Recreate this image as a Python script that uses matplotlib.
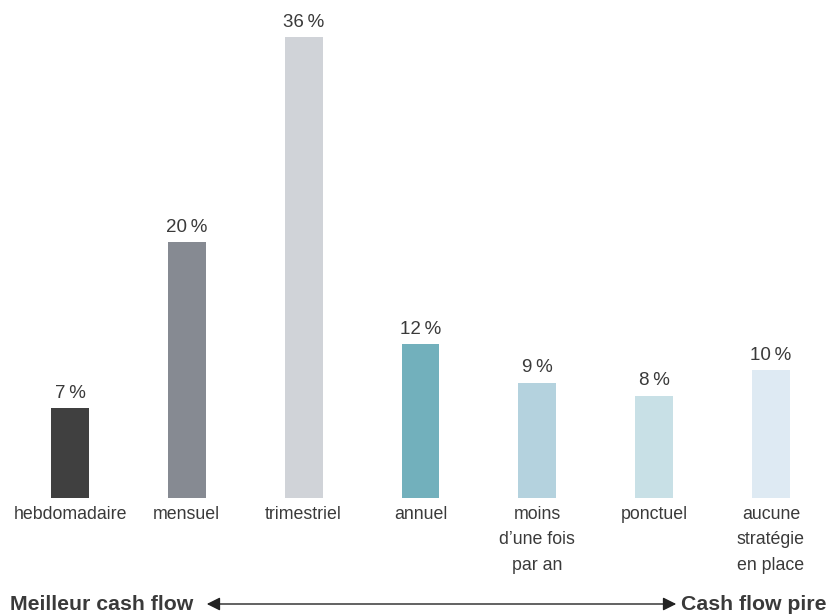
import matplotlib.pyplot as plt
from matplotlib.patches import FancyArrowPatch

categories = ["hebdomadaire", "mensuel", "trimestriel", "annuel",
              "moins\nd\u2019une fois\npar an", "ponctuel",
              "aucune\nstrat\u00e9gie\nen place"]
values = [7, 20, 36, 12, 9, 8, 10]
colors = ["#404040", "#868a92", "#d0d3d8", "#72b0bc",
          "#b4d2de", "#c8e0e6", "#deeaf3"]
left_label = "Meilleur cash flow"
right_label = "Cash flow pire"

plt.rcParams["font.family"] = ["Liberation Sans", "DejaVu Sans"]
txt = "#3a3a3a"

fig = plt.figure(figsize=(8.29, 6.16), dpi=100)
ax = fig.add_axes([11.6 / 829, 118 / 616, 817.8 / 829, 486.4 / 616])

x = range(len(values))
ax.bar(x, values, width=0.325, color=colors)
for i, v in enumerate(values):
    ax.text(i, v + 0.5, f"{v}\u2009%", ha="center", va="bottom",
            fontsize=13.5, color=txt)
    ax.text(i, -0.6, categories[i], ha="center", va="top",
            fontsize=12.8, color=txt, linespacing=1.65)

ax.set_xlim(-0.5, len(values) - 0.5)
ax.set_ylim(0, 38)
ax.axis("off")

yb = 1 - 604 / 616
fig.text(10 / 829, yb, left_label, ha="left", va="center",
         fontsize=15.3, fontweight="bold", color=txt)
fig.text(827 / 829, yb, right_label, ha="right", va="center",
         fontsize=15.3, fontweight="bold", color=txt)
arrow = FancyArrowPatch((204 / 829, yb), (679 / 829, yb),
                        transform=fig.transFigure, arrowstyle="<|-|>",
                        mutation_scale=20, color="#222222", lw=1)
fig.patches.append(arrow)

fig.savefig("out.png", dpi=100)
